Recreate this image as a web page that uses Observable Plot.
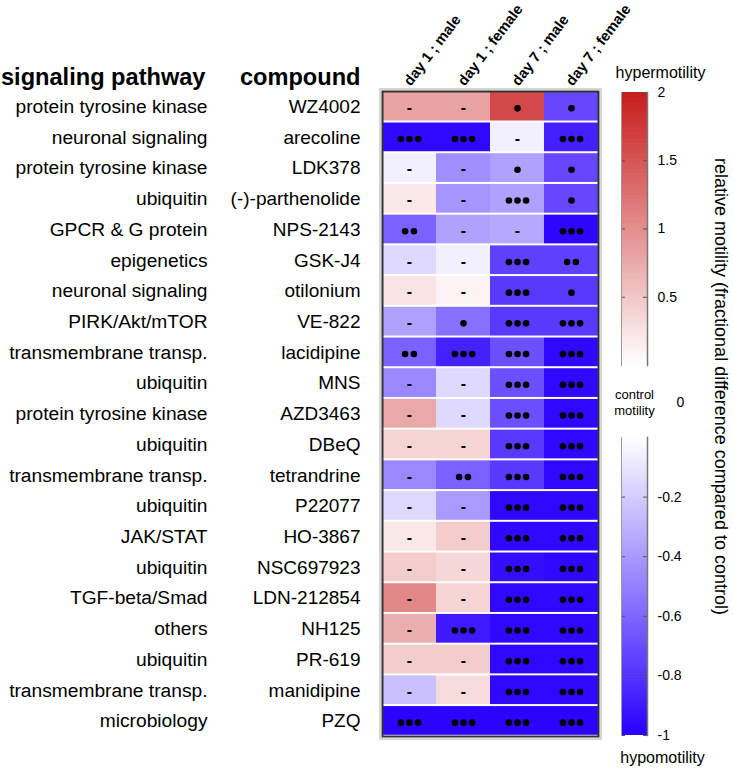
<!DOCTYPE html>
<html><head><meta charset="utf-8">
<script src="https://cdn.jsdelivr.net/npm/d3@7"></script>
<script src="https://cdn.jsdelivr.net/npm/@observablehq/plot@0.6"></script>
<style>
body{margin:0;background:#fff;font-family:"Liberation Sans",Arial,sans-serif;}
#wrap{position:relative;width:733px;height:770px;}
#wrap > svg{position:absolute;}
</style></head><body><div id="wrap"></div>
<script>
const pathways = ["protein tyrosine kinase","neuronal signaling","protein tyrosine kinase","ubiquitin","GPCR & G protein","epigenetics","neuronal signaling","PIRK/Akt/mTOR","transmembrane transp.","ubiquitin","protein tyrosine kinase","ubiquitin","transmembrane transp.","ubiquitin","JAK/STAT","ubiquitin","TGF-beta/Smad","others","ubiquitin","transmembrane transp.","microbiology"];
const compounds = ["WZ4002","arecoline","LDK378","(-)-parthenolide","NPS-2143","GSK-J4","otilonium","VE-822","lacidipine","MNS","AZD3463","DBeQ","tetrandrine","P22077","HO-3867","NSC697923","LDN-212854","NH125","PR-619","manidipine","PZQ"];
const conditions = ["day 1 ; male","day 1 ; female","day 7 ; male","day 7 ; female"];
const day1Male   = [0.82,-0.97,-0.06,0.2,-0.62,-0.15,0.24,-0.37,-0.62,-0.47,0.77,0.38,-0.47,-0.15,0.2,0.45,1.05,0.71,0.45,-0.25,-0.99];
const day1Female = [0.82,-0.97,-0.44,-0.42,-0.37,-0.06,0.1,-0.56,-0.87,-0.15,-0.15,0.38,-0.62,-0.4,0.45,0.34,0.38,-0.9,0.45,0.31,-0.99];
const day7Male   = [1.6,-0.06,-0.37,-0.37,-0.34,-0.75,-0.78,-0.78,-0.69,-0.69,-0.69,-0.78,-0.78,-0.97,-0.97,-0.95,-0.97,-0.97,-0.97,-0.97,-0.99];
const day7Female = [-0.72,-0.88,-0.72,-0.72,-0.98,-0.75,-0.78,-0.78,-0.97,-0.97,-0.97,-0.97,-0.97,-0.97,-0.97,-0.97,-0.97,-0.97,-0.97,-0.97,-0.99];
// significance: 0 = "-", 1..3 = number of dots
const sigDay1Male   = [0,3,0,0,2,0,0,0,2,0,0,0,0,0,0,0,0,0,0,0,3];
const sigDay1Female = [0,3,0,0,0,0,0,1,3,0,0,0,2,0,0,0,0,3,0,0,3];
const sigDay7Male   = [1,0,1,3,0,3,3,3,3,3,3,3,3,3,3,3,3,3,3,3,3];
const sigDay7Female = [1,3,1,1,3,2,1,3,3,3,3,3,3,3,3,3,3,3,3,3,3];
const redTicks = [0.5, 1, 1.5, 2];
const blueTicks = [-0.2, -0.4, -0.6, -0.8, -1];
const colorStops = [-1, 0, 2];
const colorRange = ["#2a00ff", "#ffffff", "#c81c1c"];

const valueCols = [day1Male, day1Female, day7Male, day7Female];
const sigCols = [sigDay1Male, sigDay1Female, sigDay7Male, sigDay7Female];
const cells = compounds.flatMap((c, i) => conditions.map((cond, j) => ({
  compound: c, pathway: pathways[i], cond, value: valueCols[j][i], sig: sigCols[j][i]
})));
const rows = compounds.map((c, i) => ({compound: c, pathway: pathways[i]}));
const color = {type: "linear", domain: colorStops, range: colorRange, interpolate: "rgb"};
const FONT = "Liberation Sans, Arial, sans-serif";

const main = Plot.plot({
  width: 733, height: 770,
  marginLeft: 382, marginRight: 135, marginTop: 91, marginBottom: 34,
  style: {fontFamily: FONT, background: "white", color: "black"},
  x: {domain: conditions, padding: 0, round: false, axis: null},
  y: {domain: compounds, padding: 0, round: false, axis: null},
  color,
  marks: [
    Plot.cell(cells, {x: "cond", y: "compound", fill: "value", insetTop: 0.8, insetBottom: 1.2}),
    Plot.text(cells.filter(d => d.sig === 0), {x: "cond", y: "compound", text: () => "-", fontWeight: "bold", fontSize: 16, dy: 1}),
    Plot.dot(cells.filter(d => d.sig === 1 || d.sig === 3), {x: "cond", y: "compound", r: 3.3, fill: "black", dy: 1.5}),
    Plot.dot(cells.filter(d => d.sig === 2), {x: "cond", y: "compound", r: 3.3, fill: "black", dx: -4.4, dy: 1.5}),
    Plot.dot(cells.filter(d => d.sig === 2), {x: "cond", y: "compound", r: 3.3, fill: "black", dx: 4.4, dy: 1.5}),
    Plot.dot(cells.filter(d => d.sig === 3), {x: "cond", y: "compound", r: 3.3, fill: "black", dx: -8.6, dy: 1.5}),
    Plot.dot(cells.filter(d => d.sig === 3), {x: "cond", y: "compound", r: 3.3, fill: "black", dx: 8.6, dy: 1.5}),
    Plot.frame({stroke: "#c8c8c8", inset: -2.5, strokeWidth: 1.5}),
    Plot.frame({stroke: "#333", strokeWidth: 2}),
    Plot.axisY({tickSize: 0, tickPadding: 22, fontSize: 19, label: null}),
    Plot.text(rows, {y: "compound", text: "pathway", frameAnchor: "left", dx: -175, textAnchor: "end", fontSize: 19.2}),
    Plot.text(["signaling pathway"], {frameAnchor: "top-left", dx: -177, dy: -14, textAnchor: "end", lineAnchor: "middle", fontWeight: "bold", fontSize: 23.6}),
    Plot.text(["compound"], {frameAnchor: "top-left", dx: -22, dy: -14, textAnchor: "end", lineAnchor: "middle", fontWeight: "bold", fontSize: 23.6}),
    Plot.text(conditions, {x: d => d, text: d => d, frameAnchor: "top", dx: -7, dy: -11, rotate: -53, textAnchor: "start", fontWeight: "bold", fontSize: 14.7}),
    Plot.text(["relative motility (fractional difference compared to control)"], {frameAnchor: "right", dx: 122, dy: -27.5, rotate: 90, textAnchor: "middle", fontSize: 18}),
    Plot.text(["hypermotility"], {frameAnchor: "top-right", dx: 62, dy: -19, textAnchor: "middle", lineAnchor: "middle", fontSize: 16}),
    Plot.text(["control\nmotility"], {frameAnchor: "top-right", dx: 36, dy: 310, textAnchor: "middle", lineAnchor: "middle", fontSize: 13, lineHeight: 1.25}),
    Plot.text(["0"], {frameAnchor: "top-right", dx: 82, dy: 311, textAnchor: "middle", lineAnchor: "middle", fontSize: 14}),
    Plot.text(["hypomotility"], {frameAnchor: "bottom-right", dx: 64, dy: 21, textAnchor: "middle", lineAnchor: "middle", fontSize: 16})
  ]
});
main.style.left = "0px"; main.style.top = "0px";

function colorbar(lo, hi, ticks, top, barTop, barBottom) {
  const h = barBottom - top + 15;
  const step = (hi - lo) / 200;
  const slices = d3.range(lo, hi, step).map(v => ({y1: v, y2: Math.min(hi, v + step * 1.5), v: v + step / 2}));
  const p = Plot.plot({
    width: 133, height: h,
    marginLeft: 21, marginRight: 86, marginTop: barTop - top, marginBottom: 15,
    style: {fontFamily: FONT, background: "transparent", color: "black"},
    y: {domain: [lo, hi], axis: null},
    color,
    marks: [
      Plot.rectY(slices, {y1: "y1", y2: "y2", fill: "v"}),
      Plot.tickY(ticks, {y: d => d, stroke: "#555", insetRight: 22}),
      Plot.tickY(ticks, {y: d => d, stroke: "#555", insetLeft: 22}),
      Plot.frame({anchor: "left", stroke: "#999"}),
      Plot.frame({anchor: "right", stroke: "#777", strokeWidth: 1.5}),
      Plot.axisY(ticks, {anchor: "right", tickSize: 0, tickPadding: 10, fontSize: 14, label: null, tickFormat: d => String(d)})
    ]
  });
  p.style.left = "600px"; p.style.top = top + "px";
  return p;
}
const wrap = document.getElementById("wrap");
wrap.append(main);
wrap.append(colorbar(0, 2, redTicks, 80, 92, 365));
wrap.append(colorbar(-1, 0, blueTicks, 425, 437, 735));
</script></body></html>
